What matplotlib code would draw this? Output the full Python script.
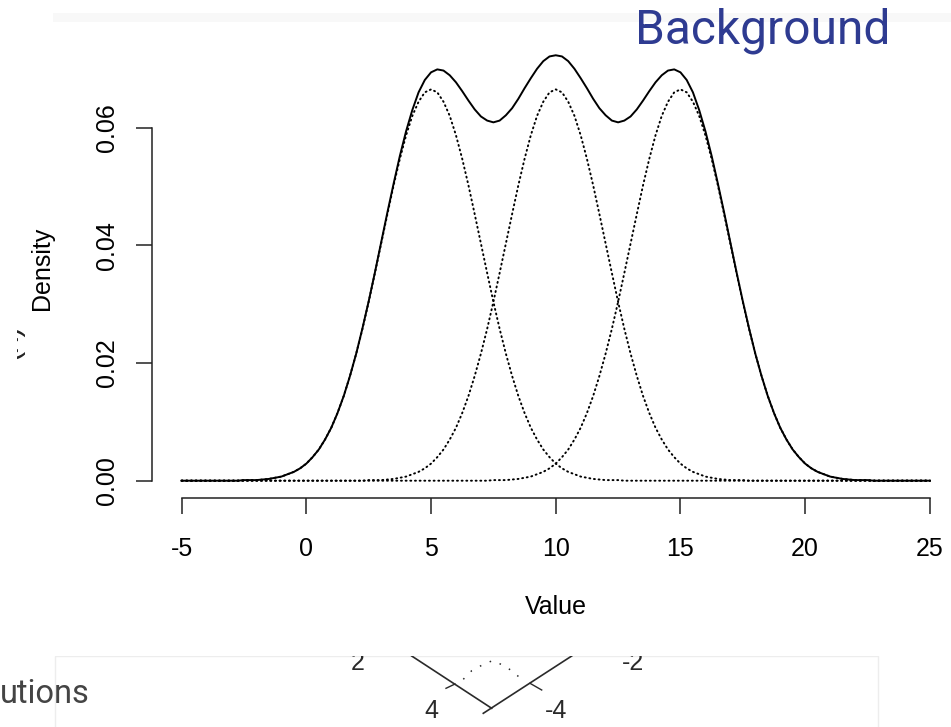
import numpy as np
import matplotlib.pyplot as plt
from matplotlib.patches import Rectangle

plt.rcParams["font.family"] = ["Liberation Sans", "DejaVu Sans"]

value_grid = np.arange(-5, 25.25, 0.25)
value_range = [-5, 25]

# solid mixture curve on value_grid (-5 .. 25)
mixture = [0, 0, 0, 0, 0, 0, 0, 0,
           0.0000, 0.0000, 0.0001, 0.0001, 0.0001, 0.0002, 0.0003, 0.0005, 0.0007, 0.0011,
           0.0015, 0.0021, 0.0029, 0.0040, 0.0053, 0.0070, 0.0090, 0.0115, 0.0144, 0.0178,
           0.0216, 0.0259, 0.0305, 0.0354, 0.0405, 0.0456, 0.0505, 0.0552, 0.0594, 0.0630,
           0.0660, 0.0681, 0.0694, 0.0699, 0.0697, 0.0689, 0.0677, 0.0662, 0.0646, 0.0631,
           0.0619, 0.0612, 0.0609, 0.0612, 0.0621, 0.0633, 0.0649, 0.0667, 0.0684, 0.0700,
           0.0713, 0.0721, 0.0723,
           0.0721, 0.0713, 0.0700, 0.0684, 0.0667, 0.0649, 0.0633, 0.0621, 0.0612, 0.0609,
           0.0612, 0.0619, 0.0631, 0.0646, 0.0662, 0.0677, 0.0689, 0.0697, 0.0699, 0.0694,
           0.0681, 0.0660, 0.0630, 0.0594, 0.0552, 0.0505, 0.0456, 0.0405, 0.0354, 0.0305,
           0.0259, 0.0216, 0.0178, 0.0144, 0.0115, 0.0090, 0.0070, 0.0053, 0.0040, 0.0029,
           0.0021, 0.0015, 0.0011, 0.0007, 0.0005, 0.0003, 0.0002, 0.0001, 0.0001, 0.0001,
           0.0000, 0.0000,
           0, 0, 0, 0, 0, 0, 0, 0]

# the three dotted components share one bell shape (offsets -8 .. 8 around each centre)
component_centers = [5, 10, 15]
profile_offsets = np.arange(-8, 8.25, 0.25)
component_profile = [0.0000, 0.0000, 0.0001, 0.0001, 0.0001, 0.0002, 0.0003, 0.0005, 0.0007,
                     0.0011, 0.0015, 0.0021, 0.0029, 0.0040, 0.0053, 0.0070, 0.0090, 0.0115,
                     0.0144, 0.0178, 0.0216, 0.0258, 0.0304, 0.0353, 0.0403, 0.0453, 0.0502,
                     0.0547, 0.0587, 0.0620, 0.0644, 0.0660, 0.0665, 0.0660, 0.0644, 0.0620,
                     0.0587, 0.0547, 0.0502, 0.0453, 0.0403, 0.0353, 0.0304, 0.0258, 0.0216,
                     0.0178, 0.0144, 0.0115, 0.0090, 0.0070, 0.0053, 0.0040, 0.0029, 0.0021,
                     0.0015, 0.0011, 0.0007, 0.0005, 0.0003, 0.0002, 0.0001, 0.0001, 0.0001,
                     0.0000, 0.0000]

x_ticks = [-5, 0, 5, 10, 15, 20, 25]
y_ticks = [0.00, 0.02, 0.04, 0.06]
y_tick_labels = ["0.00", "0.02", "0.04", "0.06"]

W, H = 951, 727
fig = plt.figure(figsize=(W / 100, H / 100), dpi=100)
fig.patch.set_facecolor("white")


def px_box(x0, y0, x1, y1):
    """pixel box (top-left origin) -> figure rect"""
    return [x0 / W, 1 - y1 / H, (x1 - x0) / W, (y1 - y0) / H]


# faint slide edge at the top
fig.patches.append(Rectangle((53 / W, 1 - 22 / H), 1, 9 / H, transform=fig.transFigure,
                             facecolor="#f8f8f8", edgecolor="none"))

# -----------------------------------------------------------------------------
# main density plot (R base graphics look)
# -----------------------------------------------------------------------------
ax = fig.add_axes(px_box(151.7, 38.2, 959.8, 497.7))
ax.set_facecolor("none")
ax.plot(value_grid, mixture, color="black", lw=1.4, solid_joinstyle="round")
for c in component_centers:
    xs = np.concatenate([[value_range[0]], c + profile_offsets, [value_range[1]]])
    ys = np.concatenate([[0], component_profile, [0]])
    ax.plot(xs, ys, color="black", lw=1.4, linestyle=(0, (0.5, 1.9)),
            dash_capstyle="round")

ax.set_xlim(-6.2, 26.2)
ax.set_ylim(-0.00289, 0.0752)
for side in ("top", "right"):
    ax.spines[side].set_visible(False)
ax.spines["left"].set_bounds(0, 0.06)
ax.spines["bottom"].set_bounds(-5, 25)
for side in ("left", "bottom"):
    ax.spines[side].set_linewidth(1.1)
    ax.spines[side].set_color("#222222")

ax.set_xticks(x_ticks)
ax.set_xticklabels([str(t) for t in x_ticks])
ax.set_yticks(y_ticks)
ax.set_yticklabels(y_tick_labels, rotation=90, va="center")
ax.tick_params(axis="both", length=11.5, width=1.1, color="#222222", labelsize=18)
ax.tick_params(axis="x", pad=17)
ax.tick_params(axis="y", pad=12)

fig.text(556 / W, 1 - 607 / H, "Value", ha="center", va="center", fontsize=18)
fig.text(42 / W, 1 - 268 / H, "Density", ha="center", va="center", fontsize=18,
         rotation=90)

# partial label peeking out at the far left
ax_frag = fig.add_axes(px_box(17, 300, 27, 380))
ax_frag.set_axis_off()
ax_frag.set_xlim(17, 27)
ax_frag.set_ylim(380, 300)
ax_frag.text(24, 342, "(x)", rotation=90, ha="right", va="center", fontsize=22,
             color="#222222", clip_on=True)

# slide title
fig.text(635 / W, 1 - 44 / H, "Background", ha="left", va="baseline", fontsize=34.5,
         color="#2E3B91", family=["Roboto", "DejaVu Sans"])

# -----------------------------------------------------------------------------
# bottom slide remnants
# -----------------------------------------------------------------------------
fig.text(0 / W, 1 - 703 / H, "utions", ha="left", va="baseline", fontsize=23.5,
         color="#444444", family=["Roboto", "DejaVu Sans"])

ax_d = fig.add_axes(px_box(0, 656, W, H))
ax_d.set_axis_off()
ax_d.set_xlim(0, W)
ax_d.set_ylim(H, 656)
ax_d.add_patch(Rectangle((55, 656), 823, 80, facecolor="none", edgecolor="#ededed", lw=1))
ink = "#2a2a2a"
ax_d.plot([411.7, 491.7], [656, 708.3], color=ink, lw=1.2)
ax_d.plot([571.7, 483.3], [656, 713.3], color=ink, lw=1.2)
ax_d.plot([446, 455], [688.3, 684], color=ink, lw=1.0)
ax_d.plot([530, 541.7], [683.3, 690], color=ink, lw=1.0)
ax_d.plot([463.3, 471.7, 482.3, 492.3, 502.7, 511.7, 521.7],
          [679.3, 670.7, 665, 660.7, 665, 670.7, 679.3],
          color=ink, lw=1.1, linestyle=(0, (1, 6)))
narrow = ["Liberation Sans Narrow", "Liberation Sans", "DejaVu Sans"]
for label, xpos, ybase in (("2", 358, 670), ("-2", 633, 670), ("4", 431, 718), ("-4", 556, 718)):
    ax_d.text(xpos, ybase, label, ha="center", va="baseline", fontsize=18, color=ink,
              family=narrow, clip_on=True)

fig.savefig("out.png", dpi=100)
